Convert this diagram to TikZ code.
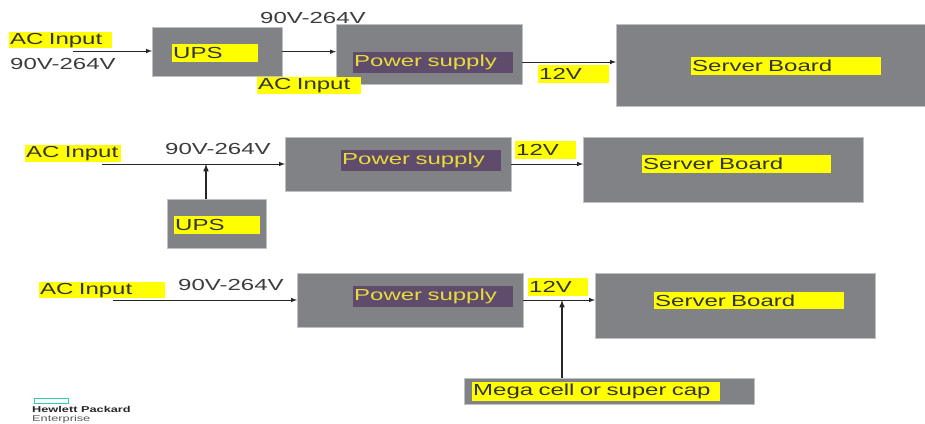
\documentclass[tikz,border=0pt]{standalone}
\usepackage{fontspec}
\setmainfont[FakeStretch=1.5]{Liberation Sans}
\definecolor{boxgrey}{HTML}{808285}
\definecolor{labelpurple}{HTML}{5F4B6B}
\definecolor{labelyellow}{HTML}{E8DC3C}
\definecolor{tagyellow}{HTML}{FFFF00}
\definecolor{inkgrey}{HTML}{3C3C3C}
\definecolor{logogreen}{HTML}{2AD2A5}
\tikzset{
  greybox/.style 2 args={fill=boxgrey,draw=boxgrey!50,line width=0.4pt,anchor=north west,inner sep=0pt,minimum width=#1,minimum height=#2},
  yellowtag/.style 2 args={fill=tagyellow,text=black!80,anchor=north west,inner sep=0pt,inner xsep=1pt,text width=#1-2pt,minimum height=#2,font=\fontsize{16}{16}\selectfont},
  purpletag/.style={fill=labelpurple,text=labelyellow,anchor=north west,inner sep=0pt,inner xsep=1pt,text width=158pt,minimum height=21pt,font=\fontsize{16}{16}\selectfont},
  plainlabel/.style={text=inkgrey,anchor=west,inner sep=0pt,font=\fontsize{16}{16}\selectfont},
  wire/.style={line width=1pt,black!85,-latex},
}
\begin{document}
\begin{tikzpicture}[x=1pt,y=-1pt]
    \useasboundingbox (0,0) rectangle (925,423);
    % first row
    \node[greybox={130pt}{49pt}] (upsA) at (152,27) {};
    \node[greybox={186pt}{60pt}] (supplyA) at (336,24) {};
    \node[greybox={309pt}{82pt}] (boardA) at (616,24) {};
    \node[yellowtag={103pt}{16pt}] (acA) at (9,32) {AC Input};
    \node[plainlabel] (voltA) at (10,64) {90V-264V};
    \node[yellowtag={86pt}{18pt}] (upsTagA) at (172,44) {UPS};
    \node[plainlabel] (voltAb) at (260,18) {90V-264V};
    \node[yellowtag={104pt}{17pt}] (acAb) at (257,77) {AC Input};
    \node[purpletag] (supplyTagA) at (353,52) {Power supply};
    \node[yellowtag={71pt}{18pt}] (railA) at (538,65) {12V};
    \node[yellowtag={190pt}{18pt}] (boardTagA) at (691,57) {Server Board};
    \coordinate (startA) at (73,51);
    \coordinate (outA) at (522,62);
    \draw[wire] (startA) -- (startA -| upsA.west);
    \draw[wire] (upsA.east) -- (upsA.east -| supplyA.west);
    \draw[wire] (outA) -- (outA -| boardA.west);
    % second row
    \node[greybox={226pt}{54pt}] (supplyB) at (285,137) {};
    \node[greybox={280pt}{65pt}] (boardB) at (583,137) {};
    \node[greybox={99pt}{49pt}] (upsB) at (167,199) {};
    \node[yellowtag={96pt}{17pt}] (acB) at (25,145) {AC Input};
    \node[plainlabel] (voltB) at (165,149) {90V-264V};
    \node[purpletag] (supplyTagB) at (341,150) {Power supply};
    \node[yellowtag={61pt}{18pt}] (railB) at (515,141) {12V};
    \node[yellowtag={189pt}{18pt}] (boardTagB) at (642,155) {Server Board};
    \node[yellowtag={86pt}{18pt}] (upsTagB) at (174,216) {UPS};
    \coordinate (startB) at (102,164);
    \coordinate (outB) at (511,164);
    \coordinate (joinB) at (206,164);
    \draw[wire] (startB) -- (startB -| supplyB.west);
    \draw[wire] (outB) -- (outB -| boardB.west);
    \draw[wire,line width=1.5pt] (upsB.north -| joinB) -- (joinB);
    % third row
    \node[greybox={226pt}{54pt}] (supplyC) at (297,273) {};
    \node[greybox={280pt}{65pt}] (boardC) at (595,273) {};
    \node[greybox={290pt}{26pt}] (cellC) at (464,378) {};
    \node[yellowtag={126pt}{16pt}] (acC) at (39,282) {AC Input};
    \node[plainlabel] (voltC) at (178,285) {90V-264V};
    \node[purpletag] (supplyTagC) at (353,286) {Power supply};
    \node[yellowtag={60pt}{18pt}] (railC) at (528,278) {12V};
    \node[yellowtag={190pt}{17pt}] (boardTagC) at (654,292) {Server Board};
    \node[yellowtag={248pt}{19pt}] (cellTagC) at (472,382) {Mega cell or super cap};
    \coordinate (startC) at (113,300);
    \coordinate (outC) at (523,300);
    \coordinate (joinC) at (562,300);
    \draw[wire] (startC) -- (startC -| supplyC.west);
    \draw[wire] (outC) -- (outC -| boardC.west);
    \draw[wire,line width=1.5pt] (cellC.north -| joinC) -- (joinC);
    % logo
    \node[draw=logogreen,line width=1.8pt,anchor=north west,inner sep=0pt,minimum width=34pt,minimum height=5pt] (logoBar) at (33.5,397.5) {};
    \node[anchor=north west,inner sep=0pt,text=black!85,font=\fontsize{8.5}{9}\selectfont\bfseries] (logoName) at (32,406) {Hewlett Packard};
    \node[anchor=north west,inner sep=0pt,text=black!65,font=\fontsize{8.5}{9}\selectfont] (logoSub) at (32,415) {Enterprise};
  \end{tikzpicture}
\end{document}
